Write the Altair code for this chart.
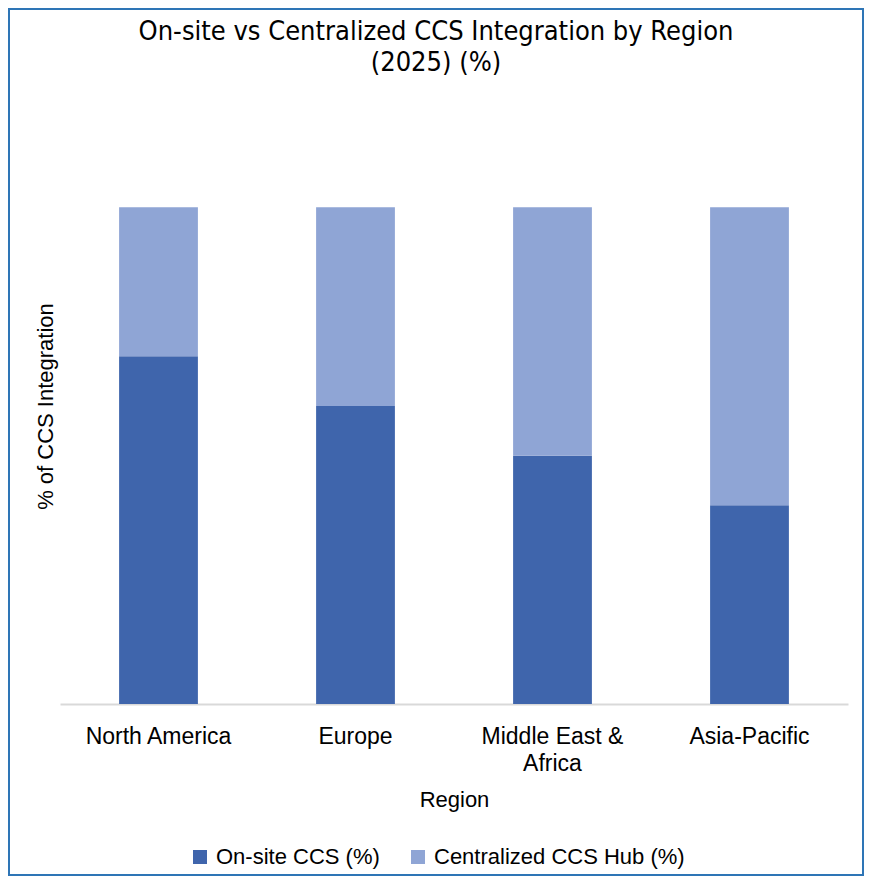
import altair as alt
import pandas as pd

regions = ["North America", "Europe", "Middle East & Africa", "Asia-Pacific"]
onsite = [70, 60, 50, 40]
central = [30, 40, 50, 60]
series = ["On-site CCS (%)", "Centralized CCS Hub (%)"]
colors = ["#3F65AC", "#8FA5D5"]
title_lines = ["On-site vs Centralized CCS Integration by Region", "(2025) (%)"]

rows = []
for i, r in enumerate(regions):
    rows.append({"Region": r, "Series": series[0], "Value": onsite[i], "Order": 0})
    rows.append({"Region": r, "Series": series[1], "Value": central[i], "Order": 1})
df = pd.DataFrame(rows)

W, H = 788, 596
PL, PT, PR, PB = 52, 100, 16, 172
font = "Liberation Sans"

bars = alt.Chart(df).mark_bar().encode(
    x=alt.X(
        "Region:N",
        sort=regions,
        scale=alt.Scale(paddingInner=0.6, paddingOuter=0.3),
        axis=alt.Axis(
            title="Region", labelAngle=0, ticks=False,
            domainColor="#D9D9D9", domainWidth=2,
            labelFontSize=23, labelFont=font, labelColor="#000000",
            labelPadding=21, labelLineHeight=27, labelLimit=400,
            labelExpr="datum.label == 'Middle East & Africa' ? ['Middle East &', 'Africa'] : datum.label",
            titleFontSize=22, titleFont=font, titleFontWeight="normal",
            titleColor="#000000", titleBaseline="alphabetic",
            titleY=102, titleX=W / 2,
        ),
    ),
    y=alt.Y(
        "Value:Q",
        stack="zero",
        scale=alt.Scale(domain=[0, 120], nice=False),
        axis=alt.Axis(
            title="% of CCS Integration", labels=False, ticks=False,
            domain=False, grid=False,
            titleFontSize=22, titleFont=font, titleFontWeight="normal",
            titleColor="#000000", titleBaseline="alphabetic",
            titleX=-8, titleY=H / 2, titleAngle=270,
        ),
    ),
    color=alt.Color(
        "Series:N",
        scale=alt.Scale(domain=series, range=colors),
        legend=alt.Legend(
            title=None, orient="none", legendX=129, legendY=738,
            direction="horizontal", symbolType="square", symbolSize=196,
            symbolStrokeWidth=0, labelFontSize=22, labelFont=font,
            labelColor="#000000", labelOffset=5, columnPadding=27,
            padding=0, labelLimit=400,
        ),
    ),
    order=alt.Order("Order:Q", sort="ascending"),
)

border = alt.Chart(pd.DataFrame({"b": [0]})).mark_rect(
    fillOpacity=0, stroke="#2E75B6", strokeWidth=2
).encode(
    x=alt.value(-PL + 1), x2=alt.value(W + PR - 1),
    y=alt.value(-PT + 1), y2=alt.value(H + PB - 1),
)

chart = alt.layer(border, bars).properties(
    width=W, height=H,
    padding={"left": PL, "top": PT, "right": PR, "bottom": PB},
    autosize=alt.AutoSizeParams(type="none"),
    title=alt.Title(
        text=title_lines, fontSize=27,
        font="DejaVu Sans Condensed, Liberation Sans Narrow",
        fontWeight="normal", color="#000000", lineHeight=31,
        offset=-69, dx=-18, anchor="middle", frame="group",
    ),
).configure(background="#FFFFFF").configure_view(stroke="transparent", strokeWidth=0)

chart.save("out.html", embed_options={"renderer": "svg", "actions": False})
